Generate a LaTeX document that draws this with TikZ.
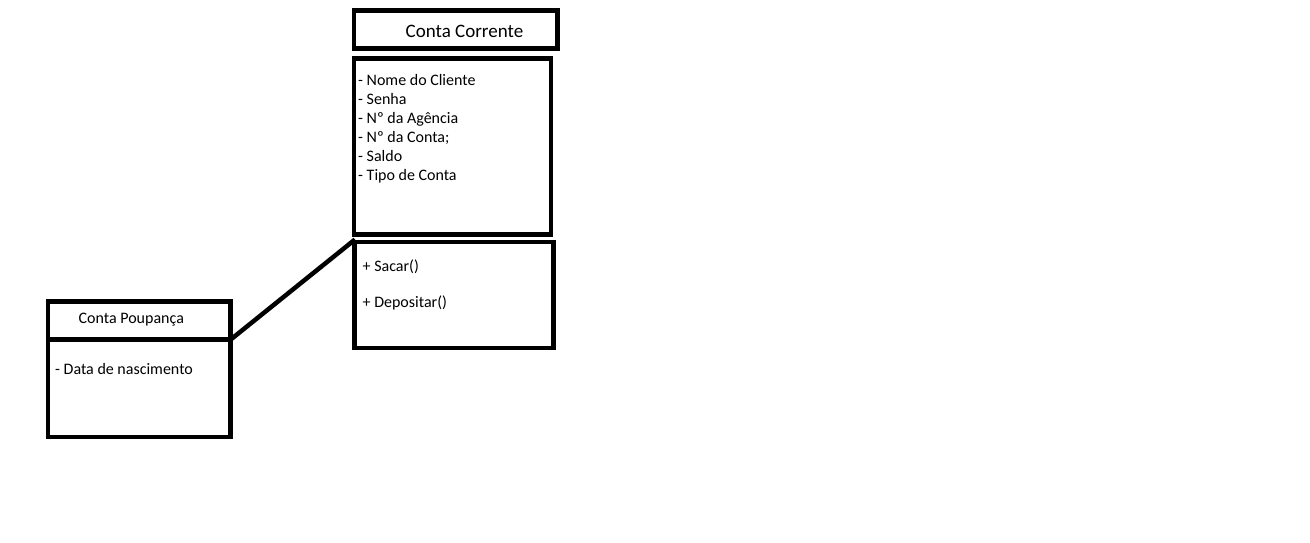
\documentclass[tikz,border=0pt]{standalone}
\usepackage{fontspec}
\setmainfont{Carlito}
\begin{document}
\begin{tikzpicture}[x=1pt,y=-1pt,
        caixa/.style={draw,line width=4.5pt,inner sep=0pt,outer sep=0pt,anchor=north west},
        texto/.style={inner sep=0pt,anchor=base west,font=\fontsize{16}{19}\selectfont},
        titulo/.style={texto,font=\fontsize{19}{22}\selectfont}]
        % Fundo
        \fill[white] (0,0) rectangle (1310,543);
        \useasboundingbox (0,0) rectangle (1310,543);

        % Classe Conta Corrente
        \node[caixa,minimum width=203.5pt,minimum height=38pt] (ccTitulo) at (354,10.5) {};
        \node[caixa,minimum width=197pt,minimum height=176pt] (ccAtrib) at (354,58.5) {};
        \node[caixa,minimum width=199pt,minimum height=106pt] (ccMetodos) at (354.5,242) {};
        \node[titulo] (ccNome) at (405.5,38) {Conta Corrente};

        % Atributos
        \node[texto] (a1) at (358,85) {- Nome do Cliente};
        \node[texto] (a2) at (358,104) {- Senha};
        \node[texto] (a3) at (358,123) {- Nº da Agência};
        \node[texto] (a4) at (358,142) {- Nº da Conta;};
        \node[texto] (a5) at (358,161) {- Saldo};
        \node[texto] (a6) at (358,180) {- Tipo de Conta};

        % Metodos
        \node[texto] (m1) at (362.5,271) {+ Sacar()};
        \node[texto] (m2) at (362.5,307.5) {+ Depositar()};

        % Classe Conta Poupanca
        \node[caixa,minimum width=182.5pt,minimum height=38pt] (cpTitulo) at (48,301.7) {};
        \node[caixa,minimum width=182.5pt,minimum height=97.3pt] (cpAtrib) at (48,339.7) {};
        \node[texto] (cpNome) at (78.5,323.5) {Conta Poupança};
        \node[texto] (p1) at (55,374) {- Data de nascimento};

        % Ligacao entre as classes
        \coordinate (ccLiga) at (355,239.5);
        \draw[line width=4.5pt] (cpTitulo.south east) -- (ccLiga);
    \end{tikzpicture}
\end{document}
